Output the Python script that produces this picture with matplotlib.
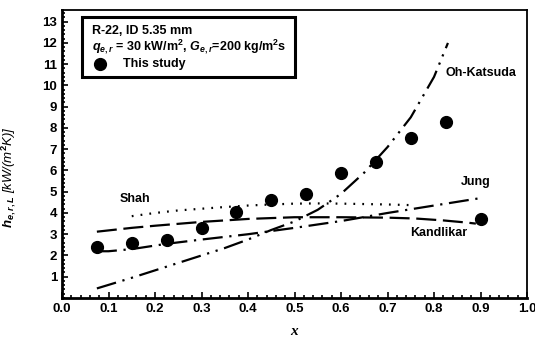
import matplotlib
matplotlib.use("Agg")
import matplotlib.pyplot as plt
from matplotlib.ticker import MultipleLocator, FixedLocator, FormatStrFormatter
from matplotlib.patches import Rectangle

plt.rcParams['font.family'] = ['Liberation Sans', 'DejaVu Sans']
plt.rcParams['font.weight'] = 'bold'
plt.rcParams['mathtext.fontset'] = 'custom'
plt.rcParams['mathtext.rm'] = 'Liberation Sans:bold'
plt.rcParams['mathtext.bf'] = 'Liberation Sans:bold'
plt.rcParams['mathtext.it'] = 'Liberation Sans:bold:italic'
plt.rcParams['mathtext.sf'] = 'Liberation Sans:bold'

# measured data (This study)
x_meas = [0.075, 0.15, 0.225, 0.30, 0.375, 0.45, 0.525, 0.60, 0.675, 0.75, 0.825, 0.90]
h_meas = [2.38, 2.60, 2.72, 3.30, 4.05, 4.60, 4.91, 5.90, 6.40, 7.54, 8.28, 3.74]

# correlations
x_shah = [0.15, 0.20, 0.25, 0.30, 0.35, 0.40, 0.45, 0.50, 0.55, 0.60, 0.65, 0.70, 0.75]
h_shah = [3.85, 4.00, 4.12, 4.20, 4.28, 4.35, 4.40, 4.44, 4.45, 4.44, 4.42, 4.40, 4.37]

x_kand = [0.075, 0.15, 0.20, 0.30, 0.40, 0.50, 0.60, 0.70, 0.76, 0.82, 0.87, 0.89]
h_kand = [3.12, 3.30, 3.40, 3.58, 3.72, 3.80, 3.80, 3.78, 3.74, 3.65, 3.55, 3.50]

x_jung = [0.075, 0.10, 0.15, 0.225, 0.30, 0.40, 0.50, 0.60, 0.70, 0.80, 0.90]
h_jung = [2.20, 2.20, 2.30, 2.55, 2.75, 3.00, 3.30, 3.62, 4.00, 4.35, 4.70]

x_oh = [0.075, 0.15, 0.20, 0.25, 0.30, 0.35, 0.40, 0.45, 0.50, 0.55, 0.60, 0.65, 0.70, 0.75, 0.80, 0.83]
h_oh = [0.45, 0.95, 1.30, 1.65, 2.00, 2.35, 2.75, 3.20, 3.60, 4.15, 4.90, 5.90, 7.10, 8.50, 10.40, 12.00]

fig = plt.figure(figsize=(5.35, 3.39), dpi=100)
ax = fig.add_axes([62/535, 1-298/339, (527-62)/535, (298-10)/339])

lw = 1.6
ax.plot(x_shah, h_shah, color='black', lw=lw, linestyle=(0, (0.8, 3.2)))
ax.plot(x_kand, h_kand, color='black', lw=lw, linestyle=(0, (9, 3)))
ax.plot(x_jung, h_jung, color='black', lw=lw, linestyle=(0, (9, 3, 1, 3)))
ax.plot(x_oh, h_oh, color='black', lw=lw, linestyle=(0, (9, 3, 1, 3, 1, 3)))
ax.plot(x_meas, h_meas, 'o', color='black', markersize=8.5)

ax.set_xlim(0, 1.0)
ax.set_ylim(0, 13.55)
ax.xaxis.set_major_locator(MultipleLocator(0.1))
ax.xaxis.set_minor_locator(MultipleLocator(0.02))
ax.yaxis.set_major_locator(FixedLocator(list(range(1, 14))))
ax.yaxis.set_minor_locator(MultipleLocator(0.2))
ax.xaxis.set_major_formatter(FormatStrFormatter('%.1f'))
ax.tick_params(which='both', direction='in', top=False, right=False, labelsize=9.5, width=1.2)
ax.tick_params(which='major', length=4)
ax.tick_params(which='minor', length=2)
for s in ax.spines.values():
    s.set_linewidth(1.3)
ax.spines['left'].set_linewidth(2)
ax.spines['bottom'].set_linewidth(2)

ax.set_xlabel('x', fontsize=11, style='italic', family='Liberation Serif', fontweight='bold')
ax.xaxis.set_label_coords(0.5, -0.095)
ax.set_ylabel(r'$h_{e,r,L}$ [kW/(m$^2$K)]', fontsize=9.5, style='italic')
ax.yaxis.set_label_coords(-0.095, 0.42)

# annotations
ax.text(0.157, 4.65, 'Shah', fontsize=9, ha='center', va='center')
ax.text(0.90, 10.6, 'Oh-Katsuda', fontsize=9, ha='center', va='center')
ax.text(0.89, 5.45, 'Jung', fontsize=9, ha='center', va='center')
ax.text(0.81, 3.05, 'Kandlikar', fontsize=9, ha='center', va='center')

# legend box
ax.add_patch(Rectangle((0.043, 10.4), 0.458, 2.8, fill=False, lw=2.2, ec='black', zorder=5))
ax.text(0.065, 12.55, 'R-22, ID 5.35 mm', fontsize=9, ha='left', va='center')
ax.text(0.065, 11.85, r'$q_{e,r}$ = 30 kW/m$^2$, $G_{e,r}$=200 kg/m$^2$s', fontsize=9, ha='left', va='center')
ax.plot([0.082], [11.0], 'o', color='black', markersize=8.5)
ax.text(0.131, 11.0, 'This study', fontsize=9, ha='left', va='center')

fig.savefig('out.png', dpi=100)
